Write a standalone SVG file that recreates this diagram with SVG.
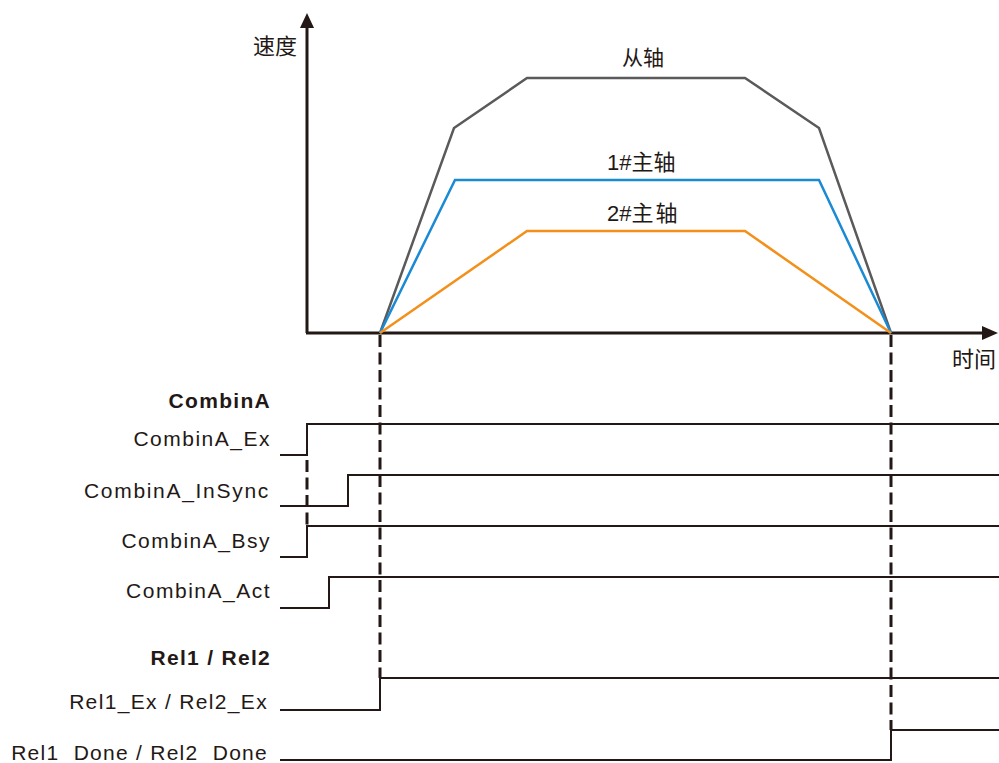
<svg xmlns="http://www.w3.org/2000/svg" width="999" height="763" viewBox="0 0 999 763">
<style>
.lbl{font-family:"Liberation Sans",Arial,sans-serif;font-size:21px;fill:#231815;letter-spacing:1.5px}
.b{font-weight:bold;letter-spacing:1.3px}
.r{letter-spacing:1.33px}
.cjk{font-family:"Liberation Sans","Noto Sans CJK SC",sans-serif;font-size:22px;fill:#231815}
.sig{fill:none;stroke:#231815;stroke-width:2}
.axis{fill:none;stroke:#231815;stroke-width:3}
.dash{fill:none;stroke:#231815;stroke-width:3;stroke-dasharray:12 5.5}
</style>
<rect width="999" height="763" fill="#fff"/>
<g id="axes">
<line class="axis" x1="307" y1="333" x2="307" y2="26"/>
<polygon points="307,13 300,28 314,28" fill="#231815"/>
<line class="axis" x1="306" y1="333" x2="984" y2="333"/>
<polygon points="998,333 982,326 982,340" fill="#231815"/>
<text class="cjk" x="253" y="54">速度</text>
<text class="cjk" x="952" y="367">时间</text>
</g>
<g id="curves">
<polyline points="380,333 454,128 527,78 745,78 819,128 891,333" fill="none" stroke="#5a5a5a" stroke-width="2.5"/>
<polyline points="380,333 455,180 819,180 891,333" fill="none" stroke="#1a8ad4" stroke-width="2.5"/>
<polyline points="380,333 527,231 745,231 891,333" fill="none" stroke="#f39019" stroke-width="2.5"/>
<text class="cjk" x="643" y="65" text-anchor="middle" style="font-size:21px">从轴</text>
<text class="cjk" x="607" y="170">1#主轴</text>
<text class="cjk" x="607" y="221">2#主<tspan dx="2">轴</tspan></text>
</g>
<g id="connectors">
<line class="dash" x1="380" y1="335" x2="380" y2="678"/>
<line class="dash" x1="891" y1="335" x2="891" y2="730"/>
<line class="dash" x1="307" y1="460" x2="307" y2="526"/>
</g>
<g id="combinA">
<text class="lbl b" x="271" y="408" text-anchor="end">CombinA</text>
<text class="lbl" x="271" y="446" text-anchor="end">CombinA_Ex</text>
<polyline class="sig" points="280,455 307,455 307,424 999,424"/>
<text class="lbl" x="270" y="498" text-anchor="end" style="letter-spacing:1.7px">CombinA_InSync</text>
<polyline class="sig" points="280,506 348,506 348,475 999,475"/>
<text class="lbl" x="271" y="548" text-anchor="end">CombinA_Bsy</text>
<polyline class="sig" points="280,557 307,557 307,526 999,526"/>
<text class="lbl" x="271" y="598" text-anchor="end">CombinA_Act</text>
<polyline class="sig" points="280,608 329,608 329,577 999,577"/>
</g>
<g id="rel">
<text class="lbl b" x="271" y="665" text-anchor="end">Rel1 / Rel2</text>
<text class="lbl r" x="268" y="709" text-anchor="end">Rel1_Ex / Rel2_Ex</text>
<polyline class="sig" points="280,710 380,710 380,678 999,678"/>
<text class="lbl r" x="268" y="760" text-anchor="end" xml:space="preserve" style="letter-spacing:1.27px">Rel1  Done / Rel2  Done</text>
<polyline class="sig" points="280,760 891,760 891,730 999,730"/>
</g>
</svg>
